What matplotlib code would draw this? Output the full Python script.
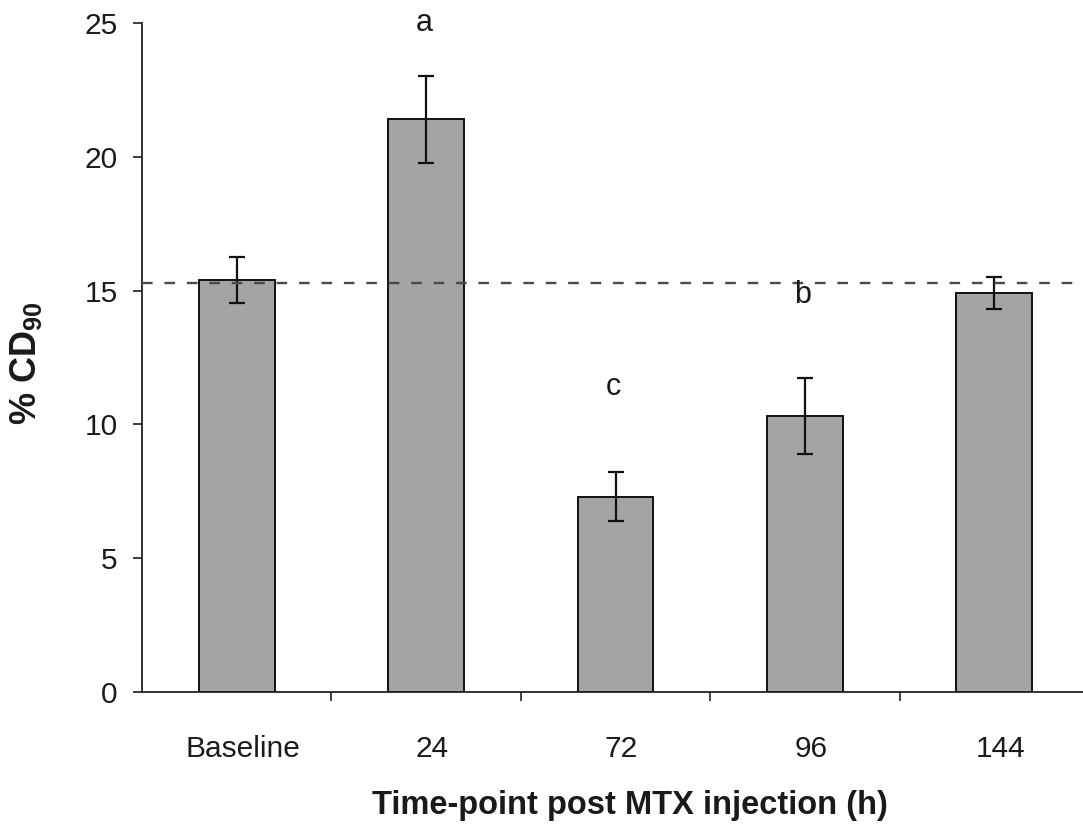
import matplotlib
matplotlib.use("Agg")
import matplotlib.pyplot as plt
from matplotlib.transforms import ScaledTranslation
import numpy as np

plt.rcParams['font.family'] = ['Liberation Sans', 'DejaVu Sans']
plt.rcParams['mathtext.fontset'] = 'custom'
plt.rcParams['mathtext.rm'] = 'Liberation Sans'
plt.rcParams['mathtext.bf'] = 'Liberation Sans:bold'

# Percentage of CD90 cells at each time-point after MTX injection
categories = ['Baseline', '24', '72', '96', '144']
cd90_mean = [15.4, 21.4, 7.3, 10.3, 14.9]
cd90_err = [0.87, 1.63, 0.91, 1.42, 0.6]
baseline_ref = 15.3
sig_labels = ['', 'a', 'c', 'b', '']
sig_heights = [None, 25.0, 11.4, 14.85, None]

fig = plt.figure(figsize=(10.83, 8.31), dpi=100)
W, H = 1083, 831
ax_left, ax_right, ax_bottom, ax_top = 142, 1089, 692, 23
ax = fig.add_axes([ax_left / W, (H - ax_bottom) / H,
                   (ax_right - ax_left) / W, (ax_bottom - ax_top) / H])

x = np.arange(len(categories))
ax.bar(x, cd90_mean, width=0.40, color='#a4a4a4', edgecolor='#111111',
       linewidth=1.4, zorder=2)
ax.errorbar(x, cd90_mean, yerr=cd90_err, fmt='none', ecolor='#111111',
            elinewidth=1.6, capsize=6, capthick=1.6, zorder=3)

ax.axhline(baseline_ref, color='#4a4a4a', linewidth=1.7,
           dashes=(4.5, 5.0), zorder=4)

for xi, lab, h in zip(x, sig_labels, sig_heights):
    if lab:
        ax.text(xi - 0.01, h, lab, ha='center', va='center', fontsize=22,
                color='#1a1a1a', clip_on=False, zorder=5)

ax.set_xlim(-0.5, len(categories) - 0.5)
ax.set_ylim(0, 25)
ax.set_yticks([0, 5, 10, 15, 20, 25])
ax.set_xticks(x)
ax.set_xticklabels(categories)
ax.set_xticks(np.arange(0.5, len(categories) - 0.5, 1.0), minor=True)

for side in ('top', 'right'):
    ax.spines[side].set_visible(False)
for side in ('left', 'bottom'):
    ax.spines[side].set_linewidth(1.3)
    ax.spines[side].set_color('#222222')

ax.tick_params(axis='y', direction='out', length=6.5, width=1.2,
               pad=11, labelsize=21.5, colors='#1a1a1a')
ax.tick_params(axis='x', which='major', length=0, pad=31,
               labelsize=21.5, colors='#1a1a1a')
ax.tick_params(axis='x', which='minor', direction='out', length=6.5,
               width=1.2, color='#222222')

shift = ScaledTranslation(6 / 100, 0, fig.dpi_scale_trans)
for lbl in ax.get_xticklabels():
    lbl.set_transform(lbl.get_transform() + shift)

ax.set_xlabel('Time-point post MTX injection (h)', fontsize=23.5,
              fontweight='bold', color='#1a1a1a')
ax.xaxis.set_label_coords((630 - ax_left) / (ax_right - ax_left),
                          (ax_bottom - 790) / (ax_bottom - ax_top))
ax.set_ylabel(r'% CD$_{\mathbf{90}}$', fontsize=26, fontweight='bold',
              color='#1a1a1a')
ax.yaxis.set_label_coords((44 - ax_left) / (ax_right - ax_left),
                          (ax_bottom - 363) / (ax_bottom - ax_top))

fig.savefig('out.png', dpi=100)
